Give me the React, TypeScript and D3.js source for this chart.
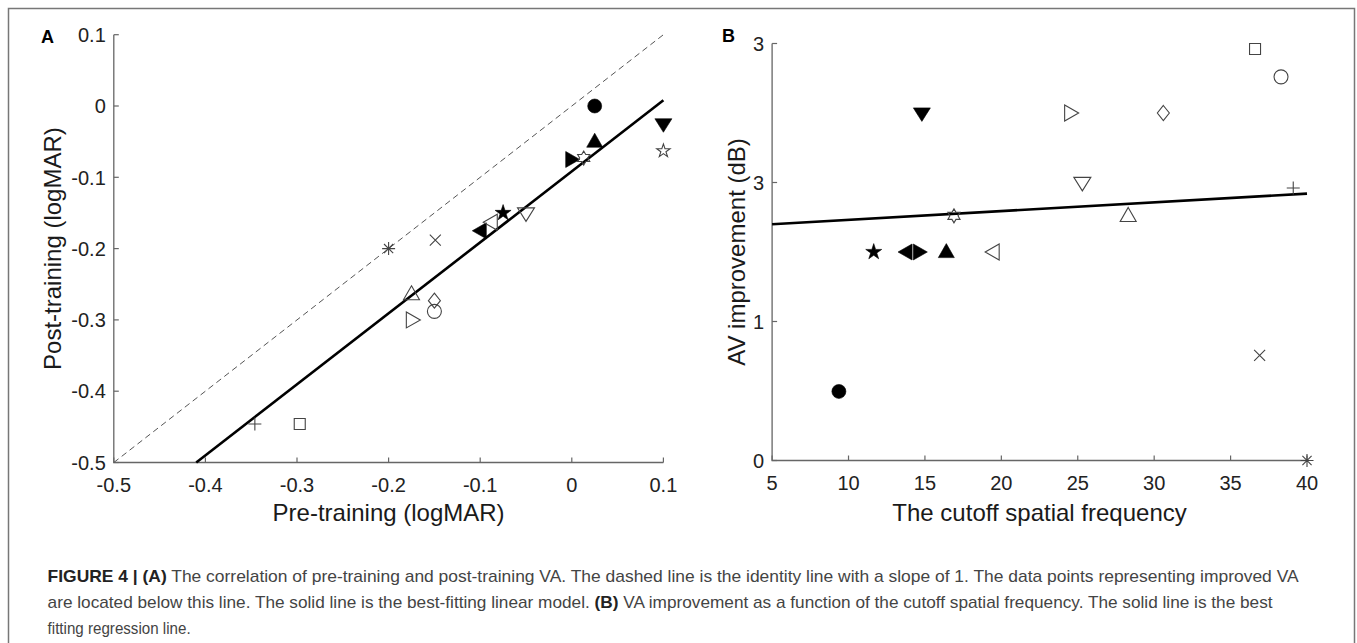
import { useEffect, useRef } from "react";
import * as d3 from "d3";

// one entry per subject, same order in every array
const markerShapes = ["o", "v", "p", "^", ">", "h", "p", "v", "<", "<", "*", "x", "^", "d", "o", ">", "+", "s"];
const markerFilled = [true, true, false, true, true, false, true, false, true, false, false, false, false, false, false, false, false, false];
const preTraining = [0.025, 0.1, 0.1, 0.025, 0.001, 0.013, -0.075, -0.05, -0.101, -0.089, -0.2, -0.149, -0.175, -0.15, -0.15, -0.173, -0.346, -0.297];
const postTraining = [0.0, -0.027, -0.063, -0.048, -0.075, -0.073, -0.15, -0.152, -0.175, -0.163, -0.2, -0.188, -0.262, -0.273, -0.288, -0.3, -0.446, -0.446];
const cutoffFreq = [9.37, 14.8, null, 16.4, 14.7, 16.9, 11.65, 25.3, 13.7, 19.4, 40, 36.9, 28.3, 30.6, 38.3, 24.6, 39.1, 36.6];
const avImprovement = [0.497, 2.49, null, 1.51, 1.5, 1.76, 1.5, 1.99, 1.5, 1.5, 0, 0.757, 1.77, 2.5, 2.76, 2.5, 1.96, 2.96];

const identityA = [[-0.5, -0.5], [0.1, 0.1]];
const fitA = [[-0.41, -0.5], [0.1, 0.008]];
const fitB = [[5, 1.7], [40, 1.92]];

const ticksAx = [-0.5, -0.4, -0.3, -0.2, -0.1, 0, 0.1];
const tickLabelsA = ["-0.5", "-0.4", "-0.3", "-0.2", "-0.1", "0", "0.1"];
const ticksBx = [5, 10, 15, 20, 25, 30, 35, 40];
const tickLabelsBx = ["5", "10", "15", "20", "25", "30", "35", "40"];
const ticksBy = [0, 1, 2, 3];
const tickLabelsBy = ["0", "1", "3", "3"];

const FONT = "'Liberation Sans', Arial, Helvetica, sans-serif";

function poly(pts) {
  return "M" + pts.map((p) => p.join(",")).join("L") + "Z";
}

function star(n, R, r) {
  const pts = [];
  for (let i = 0; i < n * 2; i++) {
    const a = -Math.PI / 2 + (i * Math.PI) / n;
    const rad = i % 2 === 0 ? R : r;
    pts.push([rad * Math.cos(a), rad * Math.sin(a)]);
  }
  return poly(pts);
}

function markerPath(shape, filled) {
  switch (shape) {
    case "o": {
      const p = d3.path();
      p.arc(0, 0, 7, 0, 2 * Math.PI);
      p.closePath();
      return p.toString();
    }
    case "^": return poly([[0, -7], [8, 7], [-8, 7]]);
    case "v": return poly([[0, 7], [8.5, -6.5], [-8.5, -6.5]]);
    case ">": return poly([[7, 0], [-7, -8], [-7, 8]]);
    case "<": return poly([[-7, 0], [7, -8], [7, 8]]);
    case "p": return filled ? star(5, 8.4, 8.4 * 0.382) : star(5, 7, 7 * 0.382);
    case "h": return star(6, 7, 7 * 0.577);
    case "d": return poly([[0, -7.5], [6, 0], [0, 7.5], [-6, 0]]);
    case "s": return poly([[-5.5, -5.5], [5.5, -5.5], [5.5, 5.5], [-5.5, 5.5]]);
    case "x": return "M-5.5,-5.5L5.5,5.5M5.5,-5.5L-5.5,5.5";
    case "+": return "M-6.5,0L6.5,0M0,-6.5L0,6.5";
    case "*": return "M-6.5,0L6.5,0M0,-6.5L0,6.5M-4.6,-4.6L4.6,4.6M4.6,-4.6L-4.6,4.6";
  }
  return "";
}

export default function App() {
  const ref = useRef(null);

  useEffect(() => {
    const svg = d3.select(ref.current);
    svg.selectAll("*").remove();

    // outer frame
    svg.append("rect")
      .attr("x", 8.5).attr("y", 8.5).attr("width", 1346).attr("height", 700)
      .attr("fill", "none").attr("stroke", "#777").attr("stroke-width", 1.5);

    const panels = [
      {
        label: "A", labelX: 41, labelY: 43,
        x: d3.scaleLinear().domain([-0.5, 0.1]).range([113.8, 663.4]),
        y: d3.scaleLinear().domain([-0.5, 0.1]).range([462.5, 34.7]),
        xTicks: ticksAx, xLabels: tickLabelsA, yTicks: ticksAx, yLabels: tickLabelsA,
        xTitle: "Pre-training (logMAR)", yTitle: "Post-training (logMAR)", yTitleX: 61,
        xs: preTraining, ys: postTraining,
        lines: [{ pts: identityA, dash: "6,4", color: "#555", width: 1 }, { pts: fitA, dash: null, color: "#000", width: 2.6 }],
      },
      {
        label: "B", labelX: 722, labelY: 42,
        x: d3.scaleLinear().domain([5, 40]).range([772.1, 1307]),
        y: d3.scaleLinear().domain([0, 3]).range([460.5, 43.5]),
        xTicks: ticksBx, xLabels: tickLabelsBx, yTicks: ticksBy, yLabels: tickLabelsBy,
        xTitle: "The cutoff spatial frequency", yTitle: "AV improvement (dB)", yTitleX: 745,
        xs: cutoffFreq, ys: avImprovement,
        lines: [{ pts: fitB, dash: null, color: "#000", width: 2.6 }],
      },
    ];

    panels.forEach((P) => {
      const [x0, x1] = P.x.range();
      const [y0, y1] = P.y.range();
      const ax = svg.append("g").attr("font-family", FONT).attr("font-size", 20);

      // axis lines (MATLAB box off, ticks pointing inward)
      ax.append("path")
        .attr("d", `M${x0},${y1}V${y0}H${x1}`)
        .attr("fill", "none").attr("stroke", "#666").attr("stroke-width", 1.3);

      ax.selectAll(".xtick")
        .data(P.xTicks)
        .join("line")
        .attr("class", "xtick")
        .attr("x1", (d) => P.x(d)).attr("x2", (d) => P.x(d))
        .attr("y1", y0).attr("y2", y0 - 5)
        .attr("stroke", "#666").attr("stroke-width", 1.2);

      ax.selectAll(".xlab")
        .data(P.xTicks)
        .join("text")
        .attr("class", "xlab")
        .attr("x", (d) => P.x(d)).attr("y", y0 + 29)
        .attr("text-anchor", "middle").attr("fill", "#222")
        .text((d, i) => P.xLabels[i]);

      ax.selectAll(".ytick")
        .data(P.yTicks)
        .join("line")
        .attr("class", "ytick")
        .attr("x1", x0).attr("x2", x0 + 5)
        .attr("y1", (d) => P.y(d)).attr("y2", (d) => P.y(d))
        .attr("stroke", "#666").attr("stroke-width", 1.2);

      ax.selectAll(".ylab")
        .data(P.yTicks)
        .join("text")
        .attr("class", "ylab")
        .attr("x", x0 - 8).attr("y", (d) => P.y(d))
        .attr("dy", "0.36em")
        .attr("text-anchor", "end").attr("fill", "#222")
        .text((d, i) => P.yLabels[i]);

      const line = d3.line().x((d) => P.x(d[0])).y((d) => P.y(d[1]));
      P.lines.forEach((L) => {
        svg.append("path")
          .attr("d", line(L.pts))
          .attr("fill", "none")
          .attr("stroke", L.color)
          .attr("stroke-width", L.width)
          .attr("stroke-dasharray", L.dash);
      });

      const idx = d3.range(markerShapes.length).filter((i) => P.xs[i] != null);
      svg.append("g")
        .selectAll("path")
        .data(idx)
        .join("path")
        .attr("transform", (i) => `translate(${P.x(P.xs[i])},${P.y(P.ys[i])})`)
        .attr("d", (i) => markerPath(markerShapes[i], markerFilled[i]))
        .attr("fill", (i) => (markerFilled[i] ? "#000" : "none"))
        .attr("stroke", (i) => (markerFilled[i] ? "#000" : "#444"))
        .attr("stroke-width", (i) => (markerFilled[i] ? 0.6 : 1.1))
        .attr("stroke-linejoin", "miter");

      svg.append("text")
        .attr("x", (x0 + x1) / 2).attr("y", 521)
        .attr("text-anchor", "middle")
        .attr("font-family", FONT).attr("font-size", 24).attr("fill", "#1a1a1a")
        .text(P.xTitle);

      svg.append("text")
        .attr("transform", `translate(${P.yTitleX},${(y0 + y1) / 2}) rotate(-90)`)
        .attr("text-anchor", "middle")
        .attr("font-family", FONT).attr("font-size", 24).attr("fill", "#1a1a1a")
        .text(P.yTitle);

      svg.append("text")
        .attr("x", P.labelX).attr("y", P.labelY)
        .attr("font-family", FONT).attr("font-size", 18).attr("font-weight", "bold")
        .attr("fill", "#000")
        .text(P.label);
    });

    // caption
    const caption = [
      { y: 581.5, len: 1251, parts: [["FIGURE 4 | (A)", true], [" The correlation of pre-training and post-training VA. The dashed line is the identity line with a slope of 1. The data points representing improved VA", false]] },
      { y: 607.8, len: 1225, parts: [["are located below this line. The solid line is the best-fitting linear model. ", false], ["(B)", true], [" VA improvement as a function of the cutoff spatial frequency. The solid line is the best", false]] },
      { y: 634, len: 143, parts: [["fitting regression line.", false]] },
    ];
    caption.forEach((c) => {
      const t = svg.append("text")
        .attr("x", 47.6).attr("y", c.y)
        .attr("font-family", FONT).attr("font-size", 17).attr("fill", "#444")
        .attr("textLength", c.len).attr("lengthAdjust", "spacingAndGlyphs")
        .attr("xml:space", "preserve");
      c.parts.forEach(([s, b]) => {
        t.append("tspan")
          .attr("font-weight", b ? "bold" : "normal")
          .attr("fill", b ? "#222" : "#444")
          .text(s);
      });
    });
  }, []);

  return (
    <svg
      ref={ref}
      width={1357}
      height={643}
      style={{ position: "absolute", left: 0, top: 0, background: "#fff" }}
    />
  );
}
